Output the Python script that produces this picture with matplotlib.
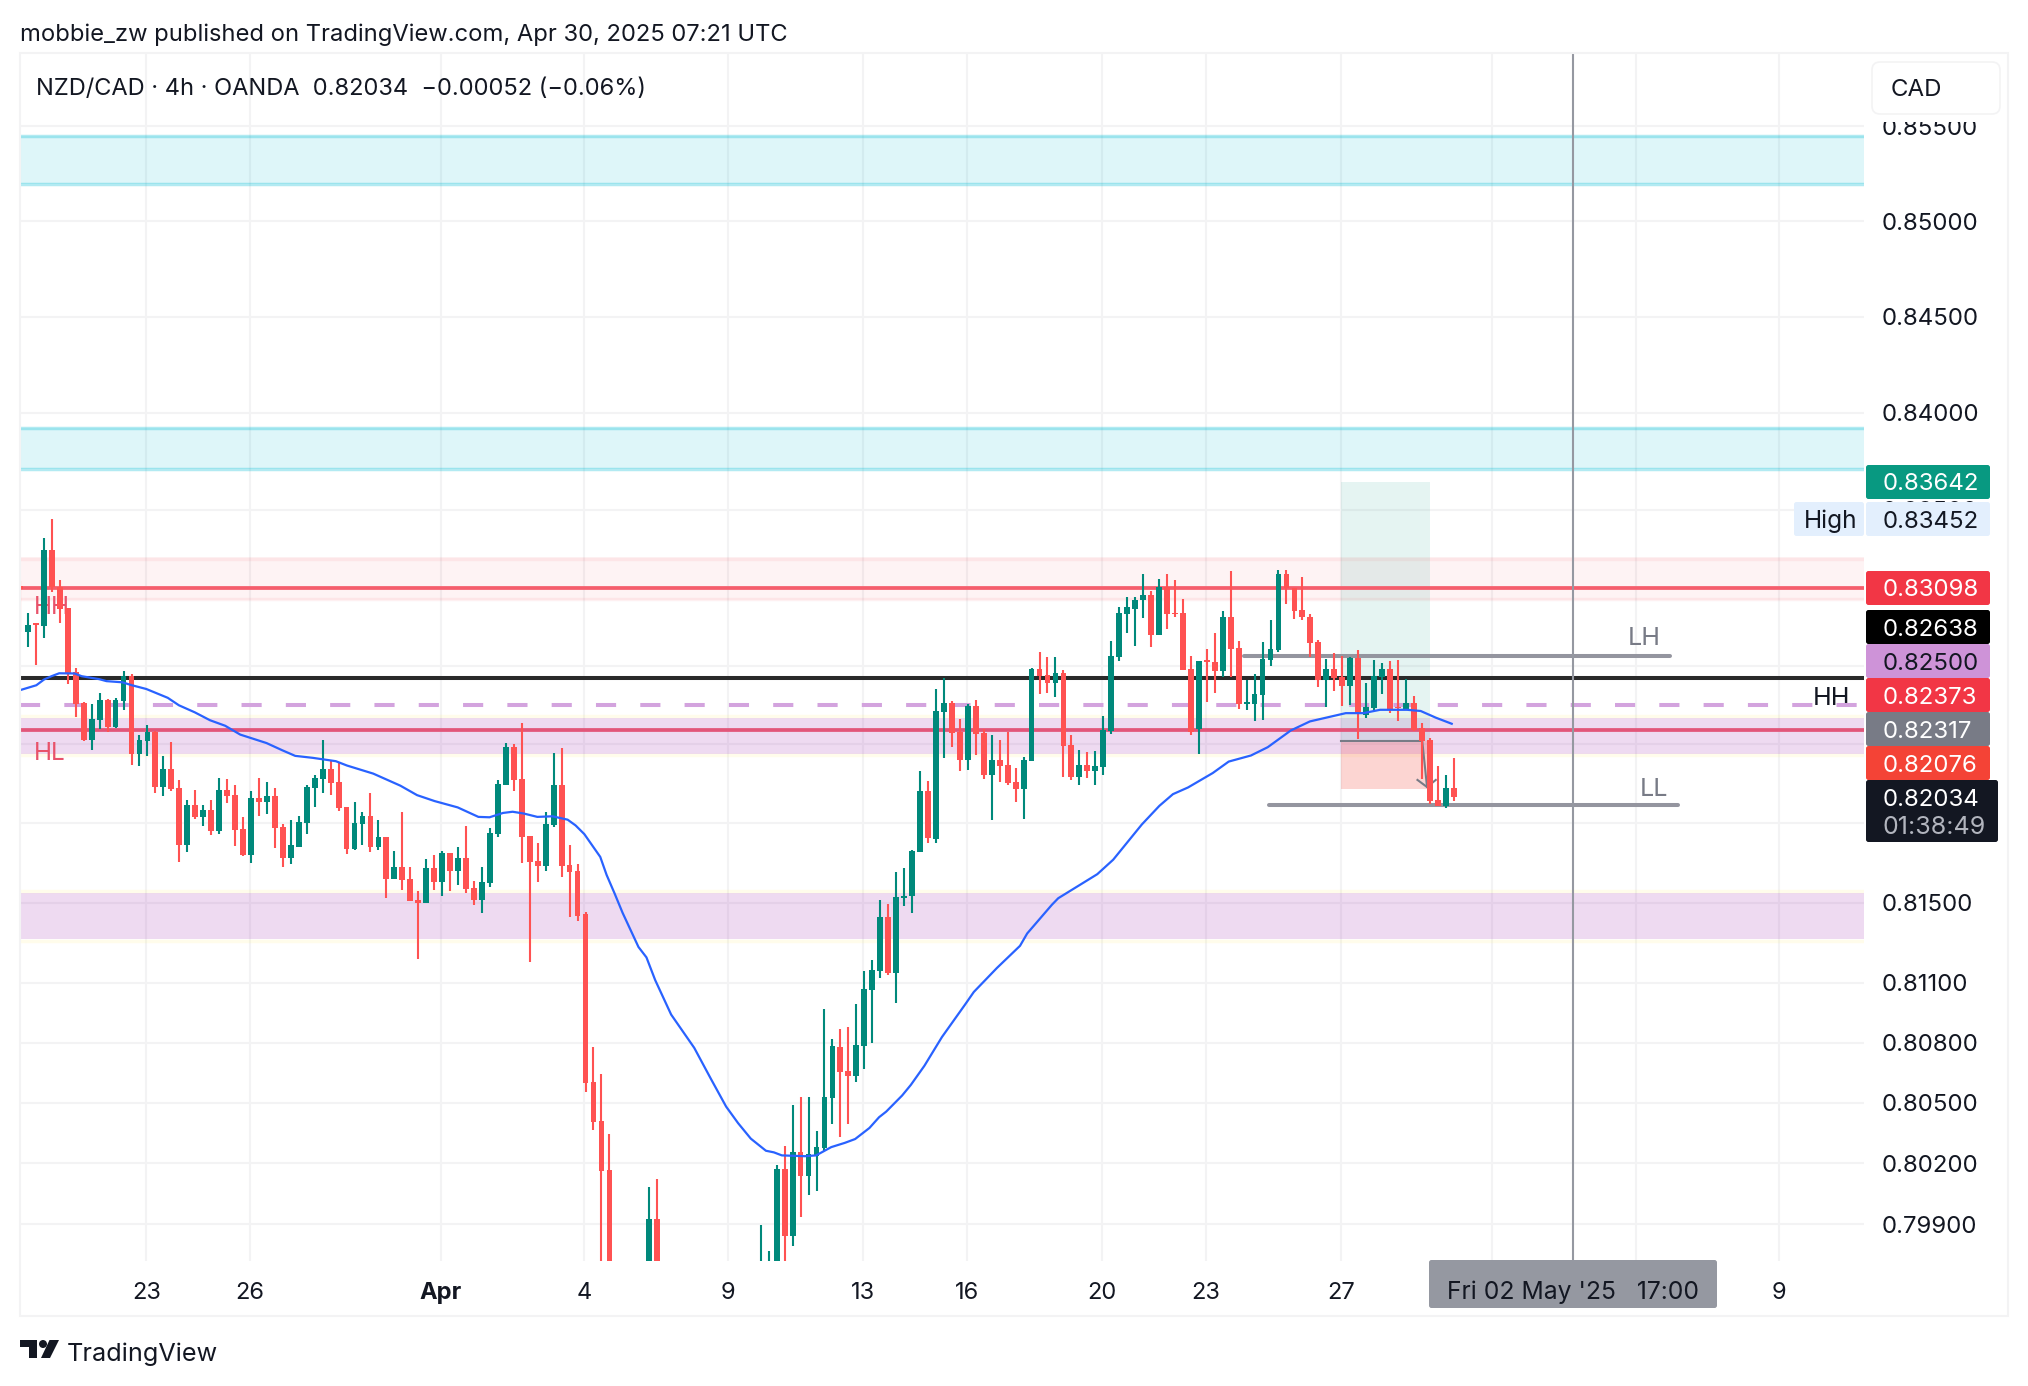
import numpy as np
import matplotlib
matplotlib.use('Agg')
import matplotlib.pyplot as plt
from matplotlib.patches import FancyBboxPatch, Rectangle, Polygon, Circle
from matplotlib.ticker import NullFormatter, NullLocator
from matplotlib.transforms import Affine2D

nan = np.nan
plt.rcParams['font.family'] = ['Inter', 'DejaVu Sans']

# 4h candles. nan = below the visible price range
opens = [.83109, .82871, .82917, .82902, .83293, .83103, .82996, .82669, .82511, .82324,
         .82426, .82528, .82389, .82523, .82647, .82253, .82319, .82365, .82086, .82176,
         .82079, .81789, .81993, .81931, .81967, .8186, .82069, .82044, .8187, .81743,
         .82028, .8201, .82038, .8188, .81727, .81783, .81902, .82079, .82125, .82176,
         .8211, .81982, .81773, .81896, .81936, .81783, .81829, .8162, .81681, .8162,
         .81513, .81498, .81676, .81605, .81753, .81661, .81727, .81574, .81513, .816,
         .81845, .82095, .82288, .82125, .81834, .81712, .81687, .81891, .82095, .81692,
         .81661, .81445, .80604, .8041, .80168, nan, nan, nan, nan, .795,
         .79924, nan, nan, nan, nan, nan, nan, nan, nan, nan,
         nan, nan, nan, .795, .7955, .796, .80175, .79843, .80259, .80137,
         .80236, .80278, .80524, .8078, .80657, .80632, .80782, .81063, .81158, .81429,
         .81148, .81526, .81534, .81756, .82062, .81822, .82465, .82512, .82363, .82223,
         .82495, .82357, .82147, .82223, .82198, .82111, .82075, .82218, .82682, .82652,
         .82611, .82662, .82295, .82137, .82198, .82167, .82187, .82366, .82743, .82963,
         .82988, .83034, .8306, .82856, .83105, .82971, .82968, .82682, .82376, .82728,
         .82718, .82672, .82952, .82789, .82504, .82504, .82549, .82728, .82779, .83172,
         .831, .82983, .82952, .8282, .82626, .82682, .82641, .82595, .82738, .82448,
         .82483, .82641, .82682, .8249, .82478, .82509, .82386, .8232, .82019, .81989,
         .82081]
highs = [.83135, .8297, .82919, .83353, .83452, .8314, .82996, .8269, .82514, .82503,
         .82562, .82533, .82537, .82676, .82656, .8235, .824, .82367, .82242, .82314,
         .8212, .82018, .82069, .81993, .82018, .82129, .82125, .82095, .81933, .82064,
         .82129, .8211, .82079, .81899, .81916, .81938, .82095, .82146, .82324, .82217,
         .82208, .81982, .82008, .81957, .82054, .81916, .81829, .81763, .81957, .81681,
         .81559, .81722, .81743, .81763, .81753, .81783, .81885, .8161, .81681, .81875,
         .8212, .82307, .82304, .82409, .81834, .81799, .81957, .82256, .82283, .81789,
         .81697, .81452, .8078, .80642, .80347, nan, nan, nan, nan, .80083,
         .80123, nan, nan, nan, nan, nan, nan, nan, nan, nan,
         nan, nan, nan, .79896, .7977, .80194, .80285, .8049, .8053, .8053,
         .80361, .80966, .80817, .80866, .80876, .80992, .81158, .81211, .81513, .81494,
         .81653, .81673, .81766, .82163, .82117, .8258, .8264, .82519, .82431, .82504,
         .82524, .82379, .82346, .8232, .82363, .82181, .82235, .82689, .82769, .82743,
         .82743, .8268, .82346, .82274, .82264, .82269, .82442, .82825, .83003, .83054,
         .83054, .83172, .83085, .83146, .83172, .83141, .83044, .82748, .82723, .82784,
         .82866, .82978, .83187, .82825, .82626, .82657, .8282, .82932, .83192, .83192,
         .831, .83156, .82963, .8283, .82733, .82764, .82748, .82743, .82779, .82611,
         .82728, .82713, .82723, .82728, .82631, .82544, .82407, .82335, .82193, .82147,
         .82229]
lows = [.82871, .82795, .82703, .82841, .8308, .82919, .82608, .82438, .82316, .8227,
        .8238, .82361, .82384, .82477, .82197, .82193, .82239, .82055, .8204, .82066,
        .81704, .81755, .81921, .81887, .8184, .81845, .82004, .81785, .81734, .81698,
        .81938, .81947, .81775, .81678, .81693, .8178, .81846, .81984, .82055, .82043,
        .81962, .81744, .81765, .81789, .81755, .81765, .81525, .81622, .81566, .81508,
        .81219, .81498, .81566, .81534, .81559, .8159, .81551, .81489, .81449, .81581,
        .81831, .82095, .82064, .81698, .81202, .81607, .81661, .81882, .8163, .81428,
        .81408, .80556, .80366, .796, .794, nan, nan, nan, nan, .7945,
        .794, nan, nan, nan, nan, nan, nan, nan, nan, nan,
        nan, nan, nan, .7945, .795, .795, .7965, .79792, .79937, .80045,
        .80062, .80262, .80395, .8033, .80395, .80604, .80668, .80798, .81123, .81139,
        .80998, .81484, .81448, .81756, .818, .81802, .8223, .82286, .82167, .82172,
        .82244, .82126, .81919, .82108, .82094, .8201, .81924, .82218, .82558, .8256,
        .82539, .82137, .82121, .82096, .82128, .82096, .82147, .82351, .82723, .82866,
        .82799, .82942, .82794, .82856, .82886, .82952, .82677, .82346, .82249, .82514,
        .8256, .82641, .82641, .82478, .82473, .82417, .82422, .82697, .82769, .83014,
        .82937, .82932, .82743, .8259, .82488, .8257, .82493, .82498, .8233, .82432,
        .82468, .82555, .82458, .82417, .82473, .82366, .82126, .81999, .81989, .81978,
        .82014]
closes = [.83092, .82911, .82909, .83293, .83103, .8299, .82664, .82503, .82324, .82431,
          .82528, .82389, .82528, .82647, .82253, .82324, .82365, .82086, .82176, .82074,
          .81789, .81993, .81931, .81967, .8186, .82069, .82038, .81865, .81743, .82028,
          .8201, .82038, .81877, .81727, .81789, .81906, .82084, .8213, .82176, .82105,
          .81977, .81773, .81901, .81936, .81783, .81829, .8162, .81681, .81615, .81508,
          .81498, .81676, .81605, .81753, .81661, .81727, .81569, .81513, .81605, .8185,
          .821, .82288, .8212, .81829, .81707, .81687, .81896, .82095, .81687, .81656,
          .81433, .806, .80404, .80164, .795, nan, nan, nan, nan, .79924,
          .795, nan, nan, nan, nan, nan, nan, nan, nan, nan,
          nan, nan, nan, .796, .7965, .80175, .79843, .80259, .80137, .80246,
          .80281, .8053, .80782, .80653, .80632, .80786, .81067, .81161, .81429, .81147,
          .81528, .81536, .81759, .82062, .81827, .82468, .82512, .82357, .82223, .82495,
          .82351, .82147, .82223, .82193, .82106, .82075, .82223, .82682, .82646, .82611,
          .82662, .82291, .82137, .82198, .82167, .82193, .82371, .82748, .82968, .83,
          .83037, .8306, .82856, .83105, .82963, .82963, .82677, .82363, .82723, .82718,
          .82672, .82952, .82784, .82504, .82514, .82555, .82733, .82784, .83172, .831,
          .82978, .82947, .82815, .82626, .82682, .82636, .82595, .82738, .82453, .82488,
          .82646, .82682, .82473, .82487, .82509, .82371, .82315, .82014, .81989, .82081,
          .82034]

# moving average sampled along the line: candle number, price
ma_x = [0.15, 2.2, 3.16, 4.1, 5.07, 7, 7.9, 10.1, 11, 13, 14.2, 16, 18.7, 20.1, 22.1, 24, 25.9,
        27.8, 31.1, 33.1, 34.7, 36.9, 39.8, 41.2, 44.5, 47.9, 50, 52.2, 55.1, 57.7, 59.1, 60.8,
        62, 63.4, 65.1, 67, 68.9, 69.9, 71, 73, 73.8, 74.8, 75.8, 77.8, 78.8, 79.9, 81.9, 84.8,
        86.9, 88.8, 90.3, 91.9, 93.8, 94.8, 95.8, 98.7, 100.1, 102, 103.7, 105, 106.8, 108, 108.9,
        110.9, 112, 113.7, 115.9, 118.8, 119.9, 122.8, 125.7, 126.6, 129.7, 130.5, 135.4, 137.4,
        141, 143.2, 144.9, 146.8, 149.9, 151.9, 154.7, 156.8, 159.7, 162.1, 166.6, 168.8, 170.9,
        174.3, 176, 177.9, 179.9]
ma_y = [.82576, .82601, .8263, .82647, .82662, .82661, .82647, .82632, .82622, .82616, .82601,
        .82582, .82537, .82499, .82463, .82423, .82395, .8235, .82307, .8227, .82242, .82232,
        .82215, .82193, .82152, .82091, .82043, .82013, .81981, .81933, .81931, .81953, .81959,
        .8195, .81933, .81936, .81919, .8189, .81846, .81731, .8164, .81547, .8145, .81278,
        .81226, .81112, .8094, .80774, .80619, .80482, .804, .80323, .80263, .80255, .8024,
        .80236, .8024, .80281, .80302, .80321, .80376, .80429, .80457, .80537, .8059, .80685,
        .80828, .8099, .81053, .81173, .81284, .81346, .8149, .81523, .81644, .81717, .81895,
        .81989, .82048, .82082, .82155, .82213, .82244, .82286, .82371, .82417, .82459, .82459,
        .82476, .82476, .8247, .82436, .82405]

price_ticks = [.855, .85, .845, .84, .835, .831, .827, .823, .819, .815, .811, .808, .805, .802, .799]
# .831 .827 .823 .819 sit fully behind the price tags
price_labels = ['0.85500', '0.85000', '0.84500', '0.84000', '0.83500', '', '', '', '',
                '0.81500', '0.81100', '0.80800', '0.80500', '0.80200', '0.79900']
time_ticks = [16, 29, 53, 71, 89, 106, 119, 136, 149, 166, 185, 203, 221]
time_labels = ['23', '26', 'Apr', '4', '9', '13', '16', '20', '23', '27', '', '', '9']
crosshair_x = 195.1

# price tags on the right: text, box colour, text colour, top and bottom in pixels
tags = [('0.83642', '#089981', 'white', 465, 499),
        ('0.83452', '#e3effd', '#131722', 502, 536),
        ('0.83098', '#f23645', 'white', 571, 605),
        ('0.82638', '#000000', 'white', 610, 644),
        ('0.82500', '#ce93d8', '#131722', 644, 678),
        ('0.82373', '#f23645', 'white', 678, 712),
        ('0.82317', '#787b86', 'white', 712, 746),
        ('0.82076', '#f44336', 'white', 746, 780)]

W, H = 2028, 1386
fig = plt.figure(figsize=(W / 100, H / 100), dpi=100, facecolor='white')
ax = fig.add_axes([20 / W, (H - 1261) / H, (1864 - 20) / W, (1261 - 53) / H])
px = Affine2D().scale(1, -1).translate(0, H)  # image pixels, y going down

ax.set_yscale('log')
ax.set_xlim(0.15, 231.66)
ax.set_ylim(0.79719, 0.85886)
for s in ax.spines.values():
    s.set_visible(False)
ax.set_axisbelow(True)
ax.grid(True, color='#f3f3f4', lw=1.5)
ax.yaxis.tick_right()
ax.set_yticks(price_ticks)
ax.set_yticklabels(price_labels, fontsize=17.3, color='#131722')
ax.yaxis.set_minor_locator(NullLocator())
ax.yaxis.set_minor_formatter(NullFormatter())
ax.set_xticks(time_ticks)
ax.set_xticklabels(time_labels, fontsize=17, color='#131722')
for t in ax.get_xticklabels():
    if t.get_text() == 'Apr':
        t.set_fontweight('bold')
ax.tick_params(axis='y', length=0, pad=13)
ax.tick_params(axis='x', length=0, pad=15)

# zones
ax.axhspan(.85195, .85447, color='#00bcd4', alpha=.13, lw=0, zorder=1)
ax.axhspan(.8371, .83922, color='#00bcd4', alpha=.13, lw=0, zorder=1)
ax.axhspan(.83035, .83256, color='#f23645', alpha=.06, lw=0, zorder=1)
ax.axhspan(.82253, .82436, color='#9c27b0', alpha=.17, lw=0, zorder=1)
ax.axhspan(.81319, .81549, color='#9c27b0', alpha=.17, lw=0, zorder=1)
for p in [.85447, .85195, .83922, .8371]:
    ax.axhline(p, color='#00bcd4', alpha=.3, lw=2.5, zorder=1.1)
for p in [.83247, .83044]:
    ax.axhline(p, color='#f23645', alpha=.07, lw=2.5, zorder=1.1)
for p in [.82445, .82244, .81558, .8131]:
    ax.axhline(p, color='#ffeb3b', alpha=.1, lw=2.5, zorder=1.1)

# long position box
ax.add_patch(Rectangle((166, .82317), 11.2, .83642 - .82317, fc='#089981', alpha=.1, lw=0, zorder=1.2))
ax.add_patch(Rectangle((166, .82076), 11.2, .82317 - .82076, fc='#f44336', alpha=.22, lw=0, zorder=1.2))
ax.plot([166, 176.2], [.82317, .82317], color='#787b86', lw=1.5, zorder=1.3)
ax.plot([176.2, 176.8], [.82317, .82084], color='#787b86', lw=1.5, zorder=1.3)
ax.plot([175.6, 176.8, 177.9], [.8212, .82084, .8212], color='#787b86', lw=1.5, zorder=1.3)

# levels
ax.axhline(.83098, color='#f55d6c', lw=2.7, zorder=2)
ax.axhline(.82638, color='#2a2a2a', lw=2.9, zorder=2)
ax.axhline(.82373, color='#e2557a', lw=2.7, zorder=2)
ax.axhline(.825, color='#d3a3de', lw=2.9, dashes=(5, 6), dash_capstyle='butt', zorder=2)
ax.plot([153.8, 207.3], [.8275, .8275], color='#94959f', lw=2.9, solid_capstyle='round', zorder=2)
ax.plot([156.9, 208.3], [.81991, .81991], color='#94959f', lw=2.9, solid_capstyle='round', zorder=2)

# text notes on the chart
ax.text(204.1, .82837, 'LH', color='#787b86', fontsize=18, ha='center', va='center', zorder=1.8)
ax.text(205.3, .82073, 'LL', color='#787b86', fontsize=18, ha='center', va='center', zorder=1.8)
ax.text(227.6, .82535, 'HH', color='#131722', fontsize=18, ha='center', va='center', zorder=1.8)
ax.text(3.9, .82255, 'HL', color='#e8526a', fontsize=17.5, ha='center', va='center', zorder=1.8)
ax.text(4.2, .83, 'HH', color='#e8526a', fontsize=17.5, ha='center', va='center', zorder=1.8)

# candles
o = np.array(opens)
h = np.array(highs)
l = np.array(lows)
c = np.array(closes)
x = np.arange(len(o)) + 0.15
up = c >= o
colors = np.where(up, '#00897b', '#ff5252')
ax.vlines(x, l, h, colors=colors, lw=1.5, zorder=3)
ax.bar(x, np.abs(c - o), bottom=np.minimum(o, c), width=.73, color=colors, lw=0, zorder=3)

ax.plot(ma_x, ma_y, color='#2962ff', lw=1.6, zorder=4)
ax.axvline(crosshair_x, color='#9598a1', lw=1.5, zorder=5)

# outer frame
fig.add_artist(Rectangle((20, 53), 1988, 1263, transform=px, fc='none', ec='#f3f3f4', lw=1.5, zorder=0.5))


def box(x0, y0, x1, y1, color, ec='none', r=2.5):
    fig.add_artist(FancyBboxPatch((x0 + r, y0 + r), x1 - x0 - 2 * r, y1 - y0 - 2 * r,
                                  boxstyle='round,pad=%g,rounding_size=%g' % (r, r),
                                  transform=px, fc=color, ec=ec, lw=1.2, zorder=10))


def label(x0, y0, s, color='#131722', size=17.3, ha='left', **kw):
    fig.text(x0, y0, s, transform=px, color=color, fontsize=size, ha=ha, va='center_baseline', zorder=11, **kw)


for txt, col, tcol, y0, y1 in tags:
    box(1866, y0, 1990, y1, col)
    label(1883, (y0 + y1) / 2, txt, tcol)
box(1794, 502, 1864, 536, '#e3effd')
label(1804, 518.5, 'High', size=17.6)
box(1866, 780, 1998, 842, '#131722')
label(1883, 797, '0.82034', 'white')
label(1883, 825, '01:38:49', '#b2b5be', size=18)
# the currency button hides the top of the first price label
fig.add_artist(Rectangle((1872, 100), 128, 22, transform=px, fc='white', lw=0, zorder=9))
box(1872, 62, 2000, 114, 'white', ec='#f3f3f4', r=8)
label(1891, 87, 'CAD')
box(1429, 1260, 1717, 1308, '#9598a1')
label(1573, 1290, "Fri 02 May '25   17:00", size=17.8, ha='center')

label(20, 32, 'mobbie_zw published on TradingView.com, Apr 30, 2025 07:21 UTC', size=17.1)
label(36, 87, 'NZD/CAD · 4h · OANDA  0.82034  \u22120.00052 (\u22120.06%)', size=17)

# TradingView logo
fig.add_artist(Polygon([(20, 1340), (37, 1340), (37, 1358), (29, 1358), (29, 1347), (20, 1347)],
                       transform=px, fc='#131722', lw=0, zorder=10))
fig.add_artist(Circle((43, 1344), 4, transform=px, fc='#131722', lw=0, zorder=10))
fig.add_artist(Polygon([(49.5, 1340), (59, 1340), (50, 1358), (41, 1358)],
                       transform=px, fc='#131722', lw=0, zorder=10))
label(67, 1352, 'TradingView', size=18.2)

fig.savefig('out.png', dpi=100)
